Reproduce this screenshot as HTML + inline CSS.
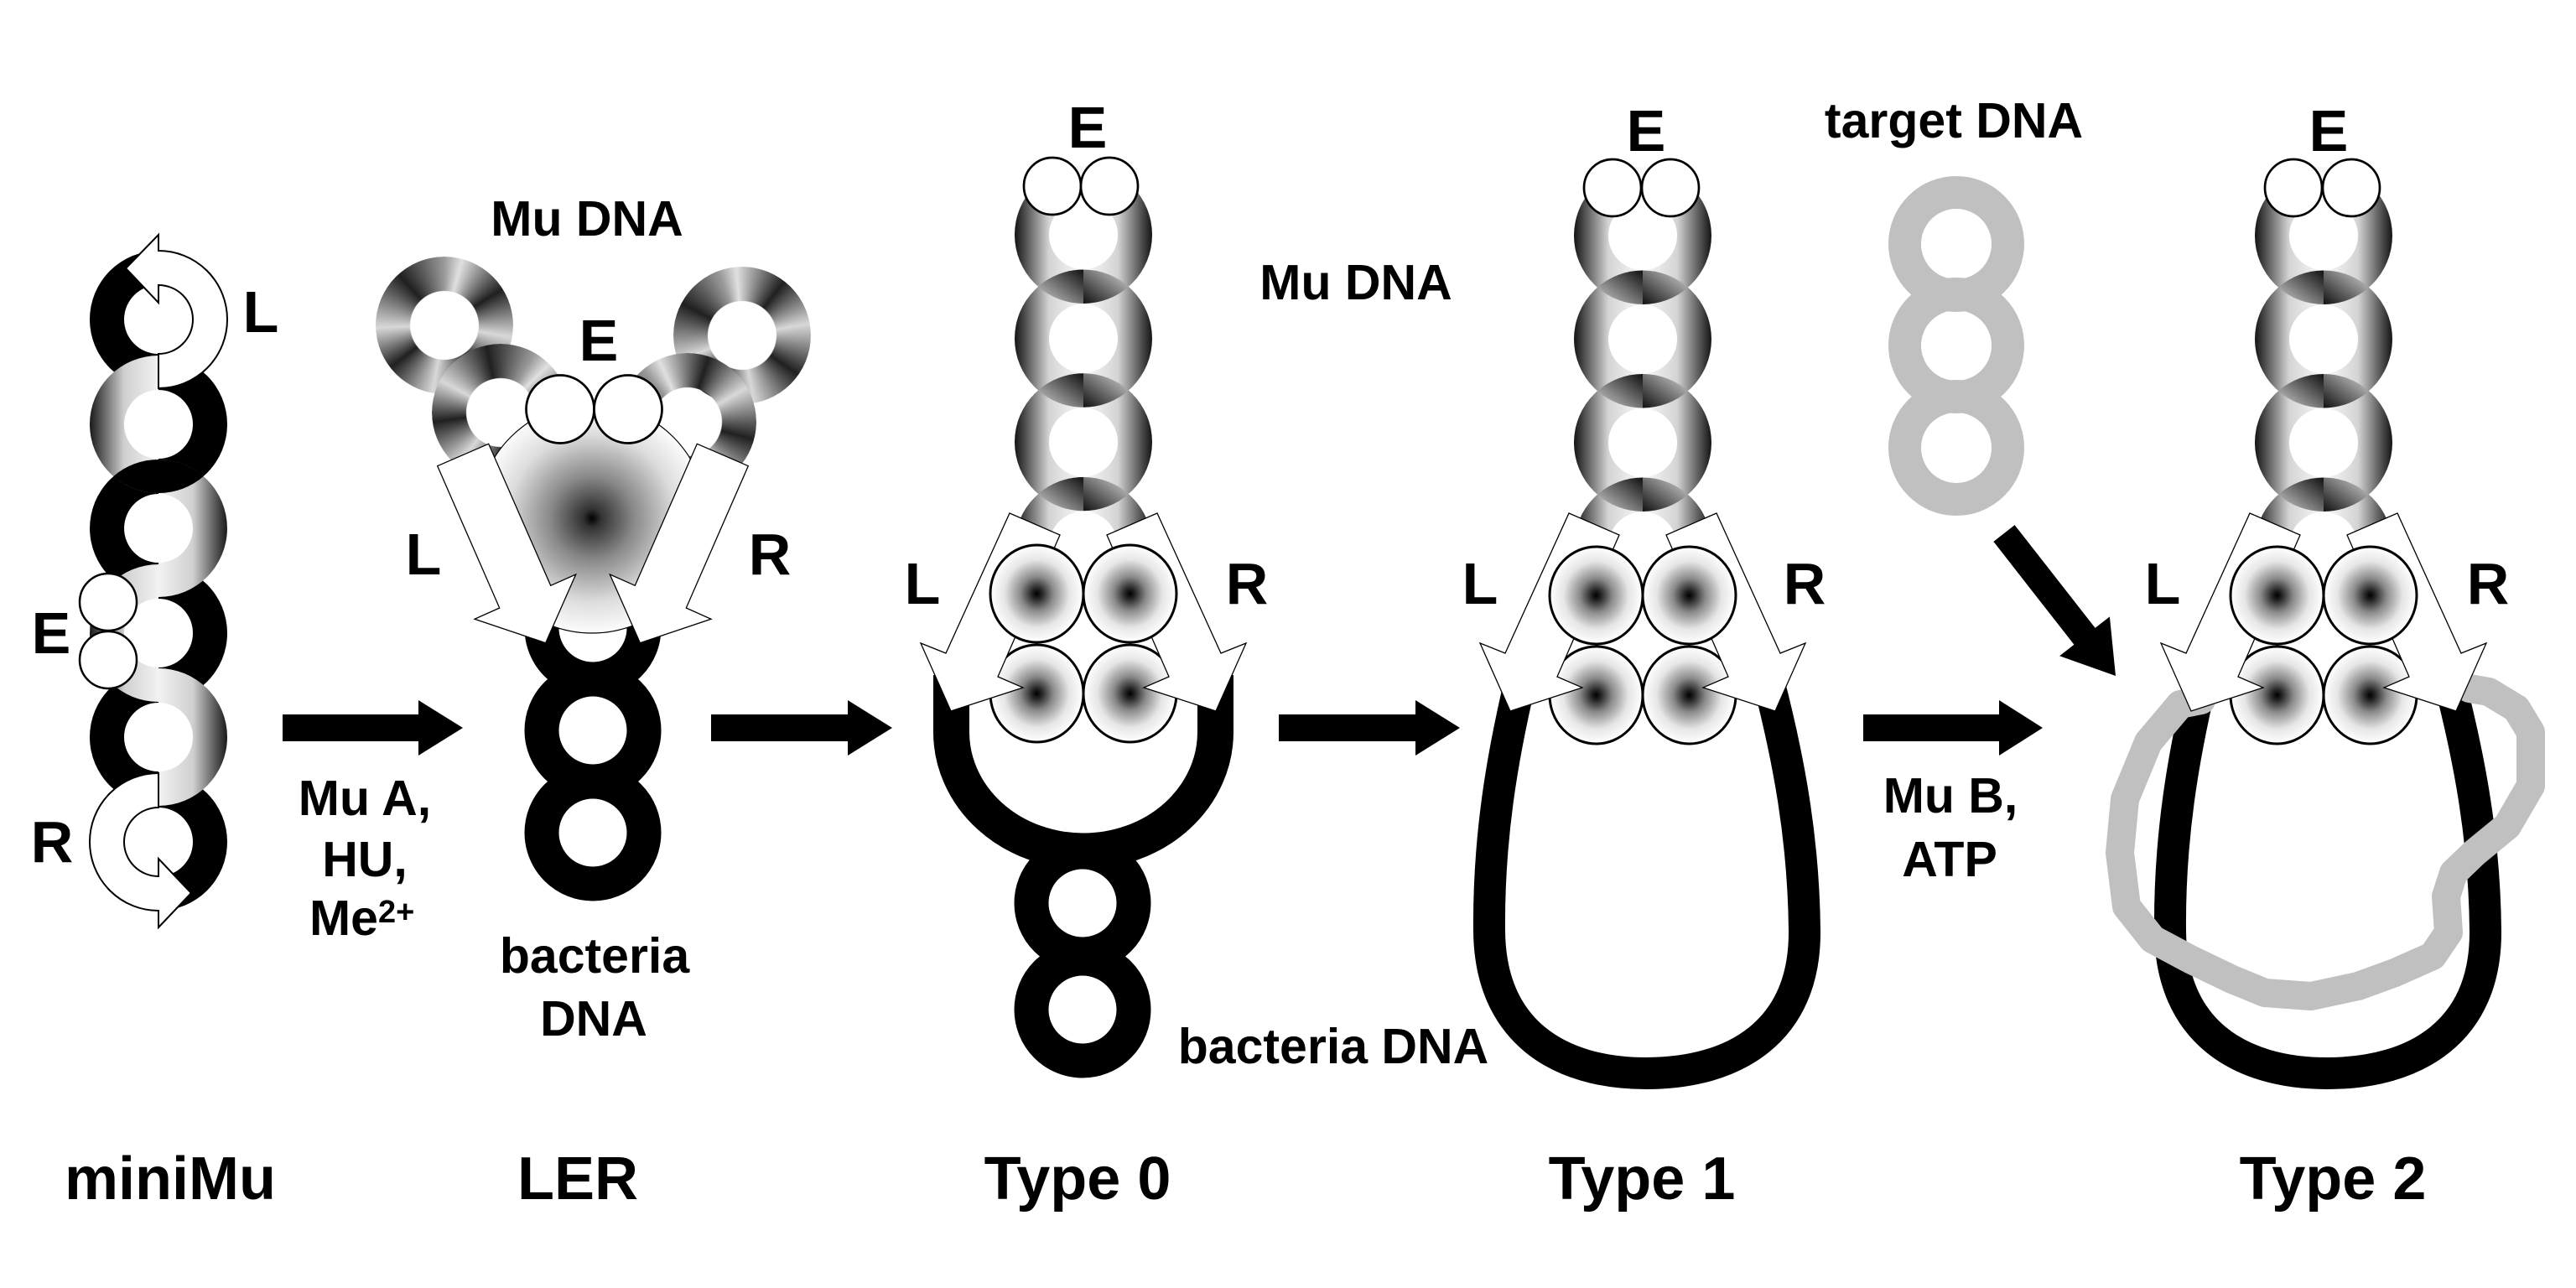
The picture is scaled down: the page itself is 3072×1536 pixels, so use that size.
<!DOCTYPE html>
<html>
<head>
<meta charset="utf-8">
<style>
html,body{margin:0;padding:0;background:#fff;}
#c{position:relative;width:3072px;height:1536px;overflow:hidden;background:#fff;}
.cr{position:absolute;width:164px;height:164px;border-radius:50%;
 -webkit-mask:radial-gradient(circle at center, transparent 40.5px, #000 41.5px);
 mask:radial-gradient(circle at center, transparent 40.5px, #000 41.5px);}
svg text{font-family:"Liberation Sans",Arial,sans-serif;font-weight:bold;fill:#000;}
.big{font-size:72px;}
.let{font-size:70px;}
.mid{font-size:59px;}
</style>
</head>
<body>
<div id="c">
<!-- LER conic-gradient rings -->
<div class="cr" style="left:448px;top:306px;background:conic-gradient(from 0deg,#9a9a9a 0deg,#e0e0e0 15deg,#202020 58deg,#d8d8d8 100deg,#202020 145deg,#d8d8d8 190deg,#202020 232deg,#d8d8d8 268deg,#202020 318deg,#9a9a9a 360deg);"></div>
<div class="cr" style="left:803px;top:318px;background:conic-gradient(from -20deg,#9a9a9a 0deg,#e0e0e0 15deg,#202020 58deg,#d8d8d8 100deg,#202020 145deg,#d8d8d8 190deg,#202020 232deg,#d8d8d8 268deg,#202020 318deg,#9a9a9a 360deg);"></div>
<div class="cr" style="left:515px;top:410px;background:conic-gradient(from 30deg,#9a9a9a 0deg,#e0e0e0 15deg,#202020 58deg,#d8d8d8 100deg,#202020 145deg,#d8d8d8 190deg,#202020 232deg,#d8d8d8 268deg,#202020 318deg,#9a9a9a 360deg);"></div>
<div class="cr" style="left:738px;top:421px;background:conic-gradient(from -40deg,#9a9a9a 0deg,#e0e0e0 15deg,#202020 58deg,#d8d8d8 100deg,#202020 145deg,#d8d8d8 190deg,#202020 232deg,#d8d8d8 268deg,#202020 318deg,#9a9a9a 360deg);"></div>

<svg width="3072" height="1536" viewBox="0 0 3072 1536" style="position:absolute;left:0;top:0" xmlns="http://www.w3.org/2000/svg">
<defs>
 <linearGradient id="gL" x1="0" y1="0" x2="1" y2="0">
  <stop offset="0" stop-color="#1a1a1a"/><stop offset="0.5" stop-color="#d0d0d0"/><stop offset="1" stop-color="#f2f2f2"/>
 </linearGradient>
 <linearGradient id="gR" x1="0" y1="0" x2="1" y2="0">
  <stop offset="0" stop-color="#f2f2f2"/><stop offset="0.5" stop-color="#d0d0d0"/><stop offset="1" stop-color="#1a1a1a"/>
 </linearGradient>
 <linearGradient id="gRing" x1="0" y1="0" x2="1" y2="0">
  <stop offset="0" stop-color="#141414"/><stop offset="0.25" stop-color="#d4d4d4"/><stop offset="0.5" stop-color="#fafafa"/><stop offset="0.75" stop-color="#d4d4d4"/><stop offset="1" stop-color="#141414"/>
 </linearGradient>
 <linearGradient id="lensL" x1="1" y1="0" x2="0" y2="1">
  <stop offset="0" stop-color="#111"/><stop offset="1" stop-color="#d0d0d0"/>
 </linearGradient>
 <linearGradient id="lensR" x1="1" y1="0" x2="0" y2="1">
  <stop offset="0" stop-color="#d8d8d8"/><stop offset="1" stop-color="#111"/>
 </linearGradient>
 <radialGradient id="prot" cx="0.5" cy="0.5" r="0.5">
  <stop offset="0" stop-color="#000"/><stop offset="0.1" stop-color="#222"/><stop offset="0.35" stop-color="#8a8a8a"/><stop offset="0.7" stop-color="#e6e6e6"/><stop offset="1" stop-color="#fff"/>
 </radialGradient>
 <radialGradient id="disk" cx="0.5" cy="0.5" r="0.5">
  <stop offset="0" stop-color="#000"/><stop offset="0.08" stop-color="#333"/><stop offset="0.36" stop-color="#888"/><stop offset="0.73" stop-color="#ddd"/><stop offset="1" stop-color="#fcfcfc"/>
 </radialGradient>
 <path id="ann" fill-rule="evenodd" d="M-82,0 A82,82 0 1,0 82,0 A82,82 0 1,0 -82,0 Z M-41,0 A41,41 0 1,0 41,0 A41,41 0 1,0 -41,0 Z"/>
</defs>

<!-- ================= miniMu ================= -->
<g>
 <!-- black halves -->
 <path fill="#000" d="M189,299 A82,82 0 0 0 189,463 L189,422 A41,41 0 0 1 189,340 Z"/>
 <path fill="#000" d="M189,424 A82,82 0 0 1 189,588 L189,547 A41,41 0 0 0 189,465 Z"/>
 <path fill="#000" d="M189,548 A82,82 0 0 0 189,712 L189,671 A41,41 0 0 1 189,589 Z"/>
 <path fill="#000" d="M189,673 A82,82 0 0 1 189,837 L189,796 A41,41 0 0 0 189,714 Z"/>
 <path fill="#000" d="M189,797 A82,82 0 0 0 189,961 L189,920 A41,41 0 0 1 189,838 Z"/>
 <path fill="#000" d="M189,922 A82,82 0 0 1 189,1086 L189,1045 A41,41 0 0 0 189,963 Z"/>
 <!-- gradient halves -->
 <path fill="url(#gL)" d="M189,424 A82,82 0 0 0 189,588 L189,547 A41,41 0 0 1 189,465 Z"/>
 <path fill="url(#gR)" d="M189,548 A82,82 0 0 1 189,712 L189,671 A41,41 0 0 0 189,589 Z"/>
 <path fill="url(#gL)" d="M189,673 A82,82 0 0 0 189,837 L189,796 A41,41 0 0 1 189,714 Z"/>
 <path fill="url(#gR)" d="M189,797 A82,82 0 0 1 189,961 L189,920 A41,41 0 0 0 189,838 Z"/>
 <!-- crossing 2-3 black on top -->
 <path fill="#000" d="M135.3,568 A82,82 0 0 0 189,588 L189,548 A82,82 0 0 0 135.3,568 Z"/>
 <path fill="#000" d="M189,588 A82,82 0 0 0 242.7,568 A82,82 0 0 0 189,548 Z"/>
 <!-- E circles -->
 <ellipse cx="129" cy="718" rx="34" ry="34" fill="#fff" stroke="#000" stroke-width="2.5"/>
 <ellipse cx="129" cy="787" rx="34" ry="34" fill="#fff" stroke="#000" stroke-width="2.5"/>
 <!-- L and R curved arrows -->
 <path fill="#fff" stroke="#000" stroke-width="2" stroke-linejoin="miter" d="M189,299 A82,82 0 0 1 189,463 L189,422 A41,41 0 0 0 189,340 L189,361 L150,320 L189,280 Z"/>
 <path fill="#fff" stroke="#000" stroke-width="2" stroke-linejoin="miter" d="M189,922 A82,82 0 0 0 189,1086 L189,1106 L228,1065 L189,1024 L189,1045 A41,41 0 0 1 189,963 Z"/>
 <text class="let" x="311" y="396" text-anchor="middle">L</text>
 <text class="let" x="61" y="779" text-anchor="middle">E</text>
 <text class="let" x="62" y="1028" text-anchor="middle">R</text>
</g>

<!-- black arrows -->
<polygon fill="#000" points="337,852 499,852 499,835 552,868 499,901 499,884 337,884"/>
<polygon fill="#000" points="848,852 1011,852 1011,835 1064,868 1011,901 1011,884 848,884"/>
<polygon fill="#000" points="1525,852 1688,852 1688,835 1741,868 1688,901 1688,884 1525,884"/>
<polygon fill="#000" points="2222,852 2384,852 2384,835 2436,868 2384,901 2384,884 2222,884"/>

<text class="mid" x="435" y="972" text-anchor="middle">Mu A,</text>
<text class="mid" x="435" y="1045" text-anchor="middle">HU,</text>
<text class="mid" x="369" y="1115">Me<tspan font-size="38" dy="-15">2+</tspan></text>

<!-- ================= LER ================= -->
<g>
 <circle cx="707" cy="749" r="61" fill="none" stroke="#000" stroke-width="41"/>
 <circle cx="707" cy="871" r="61" fill="none" stroke="#000" stroke-width="41"/>
 <circle cx="707" cy="993" r="61" fill="none" stroke="#000" stroke-width="41"/>
 <circle cx="706" cy="618" r="137" fill="url(#disk)" stroke="#000" stroke-width="1.2"/>
 <circle cx="668" cy="488" r="40.5" fill="#fff" stroke="#000" stroke-width="2.7"/>
 <circle cx="749" cy="488" r="40.5" fill="#fff" stroke="#000" stroke-width="2.7"/>
 <polygon fill="#fff" stroke="#000" stroke-width="1.3" points="521.7,555.7 582.7,529.3 656.7,698.3 686.7,685 650.7,766.7 566,738.3 595.7,725"/>
 <polygon fill="#fff" stroke="#000" stroke-width="1.3" points="892.3,555.7 831.3,529.3 757.3,698.3 727.3,685 763.3,766.7 848,738.3 818.3,725"/>
 <text class="mid" x="700" y="281" text-anchor="middle">Mu DNA</text>
 <text class="let" x="714" y="430" text-anchor="middle">E</text>
 <text class="let" x="505" y="685" text-anchor="middle">L</text>
 <text class="let" x="918" y="685" text-anchor="middle">R</text>
 <text class="mid" x="709" y="1160" text-anchor="middle">bacteria</text>
 <text class="mid" x="708" y="1235" text-anchor="middle">DNA</text>
</g>

<!-- ================= Type 0 ================= -->
<g>
 <use href="#ann" x="1292" y="280" fill="url(#gRing)"/>
 <use href="#ann" x="1292" y="403.7" fill="url(#gRing)"/>
 <use href="#ann" x="1292" y="527.3" fill="url(#gRing)"/>
 <use href="#ann" x="1292" y="651" fill="url(#gRing)"/>
 <path fill="url(#lensL)" d="M1238,341.75 A82,82 0 0 0 1292,362 L1292,321.5 A82,82 0 0 0 1238,341.75 Z"/>
 <path fill="url(#lensR)" d="M1292,362 A82,82 0 0 0 1346,341.75 A82,82 0 0 0 1292,321.5 Z"/>
 <path fill="url(#lensL)" d="M1238,465.5 A82,82 0 0 0 1292,485.7 L1292,445.3 A82,82 0 0 0 1238,465.5 Z"/>
 <path fill="url(#lensR)" d="M1292,485.7 A82,82 0 0 0 1346,465.5 A82,82 0 0 0 1292,445.3 Z"/>
 <path fill="url(#lensL)" d="M1238,589 A82,82 0 0 0 1292,609.3 L1292,569 A82,82 0 0 0 1238,589 Z"/>
 <path fill="url(#lensR)" d="M1292,609.3 A82,82 0 0 0 1346,589 A82,82 0 0 0 1292,569 Z"/>
 <circle cx="1255" cy="222" r="34" fill="#fff" stroke="#000" stroke-width="2.7"/>
 <circle cx="1323" cy="222" r="34" fill="#fff" stroke="#000" stroke-width="2.7"/>
 <path fill="none" stroke="#000" stroke-width="43" d="M1134.5,805 L1134.5,873 A157.5,142 0 0 0 1449.5,873 L1449.5,805"/>
 <circle cx="1291" cy="1077" r="61" fill="none" stroke="#000" stroke-width="41"/>
 <circle cx="1291" cy="1204" r="61" fill="none" stroke="#000" stroke-width="41"/>
 <ellipse cx="1236.5" cy="827" rx="55.5" ry="58" fill="url(#prot)" stroke="#000" stroke-width="3"/>
 <ellipse cx="1347.5" cy="827" rx="55.5" ry="58" fill="url(#prot)" stroke="#000" stroke-width="3"/>
 <polygon fill="#fff" stroke="#000" stroke-width="1.3" points="1204,612 1264,638 1190,807 1220,820 1134,848 1098,767 1128,779"/>
 <polygon fill="#fff" stroke="#000" stroke-width="1.3" points="1380,612 1320,638 1394,807 1364,820 1450,848 1486,767 1456,779"/>
 <ellipse cx="1236.5" cy="708" rx="55.5" ry="58" fill="url(#prot)" stroke="#000" stroke-width="3"/>
 <ellipse cx="1347.5" cy="708" rx="55.5" ry="58" fill="url(#prot)" stroke="#000" stroke-width="3"/>
 <text class="let" x="1297" y="176" text-anchor="middle">E</text>
 <text class="mid" x="1617" y="357" text-anchor="middle">Mu DNA</text>
 <text class="let" x="1100" y="720" text-anchor="middle">L</text>
 <text class="let" x="1487" y="720" text-anchor="middle">R</text>
 <text class="mid" x="1590" y="1268" text-anchor="middle">bacteria DNA</text>
</g>

<!-- ================= Type 1 ================= -->
<g>
 <use href="#ann" x="1959" y="281" fill="url(#gRing)"/>
 <use href="#ann" x="1959" y="404.5" fill="url(#gRing)"/>
 <use href="#ann" x="1959" y="528" fill="url(#gRing)"/>
 <use href="#ann" x="1959" y="651.5" fill="url(#gRing)"/>
 <path fill="url(#lensL)" d="M1905,342.75 A82,82 0 0 0 1959,363 L1959,322.5 A82,82 0 0 0 1905,342.75 Z"/>
 <path fill="url(#lensR)" d="M1959,363 A82,82 0 0 0 2013,342.75 A82,82 0 0 0 1959,322.5 Z"/>
 <path fill="url(#lensL)" d="M1905,466.25 A82,82 0 0 0 1959,486.5 L1959,446 A82,82 0 0 0 1905,466.25 Z"/>
 <path fill="url(#lensR)" d="M1959,486.5 A82,82 0 0 0 2013,466.25 A82,82 0 0 0 1959,446 Z"/>
 <path fill="url(#lensL)" d="M1905,589.75 A82,82 0 0 0 1959,610 L1959,569.5 A82,82 0 0 0 1905,589.75 Z"/>
 <path fill="url(#lensR)" d="M1959,610 A82,82 0 0 0 2013,589.75 A82,82 0 0 0 1959,569.5 Z"/>
 <circle cx="1923" cy="224" r="34" fill="#fff" stroke="#000" stroke-width="2.7"/>
 <circle cx="1992" cy="224" r="34" fill="#fff" stroke="#000" stroke-width="2.7"/>
 <path fill="none" stroke="#000" stroke-width="38" d="M1813,812 C1791,905 1775,1000 1776,1110 C1777,1230 1859,1280 1963,1280 C2069,1280 2153,1230 2152,1110 C2151,1000 2133,905 2109,812"/>
 <ellipse cx="1903.5" cy="829" rx="55.5" ry="58" fill="url(#prot)" stroke="#000" stroke-width="3"/>
 <ellipse cx="2014.5" cy="829" rx="55.5" ry="58" fill="url(#prot)" stroke="#000" stroke-width="3"/>
 <polygon fill="#fff" stroke="#000" stroke-width="1.3" points="1871,612 1931,638 1857,807 1887,820 1801,848 1765,767 1795,779"/>
 <polygon fill="#fff" stroke="#000" stroke-width="1.3" points="2047,612 1987,638 2061,807 2031,820 2117,848 2153,767 2123,779"/>
 <ellipse cx="1903.5" cy="710" rx="55.5" ry="58" fill="url(#prot)" stroke="#000" stroke-width="3"/>
 <ellipse cx="2014.5" cy="710" rx="55.5" ry="58" fill="url(#prot)" stroke="#000" stroke-width="3"/>
 <text class="let" x="1963" y="180" text-anchor="middle">E</text>
 <text class="let" x="1765" y="720" text-anchor="middle">L</text>
 <text class="let" x="2152" y="720" text-anchor="middle">R</text>
</g>

<!-- target DNA -->
<g>
 <text class="mid" x="2330" y="164" text-anchor="middle">target DNA</text>
 <circle cx="2333" cy="291" r="61.5" fill="none" stroke="#c0c0c0" stroke-width="39"/>
 <circle cx="2333" cy="412" r="61.5" fill="none" stroke="#c0c0c0" stroke-width="39"/>
 <circle cx="2333" cy="534" r="61.5" fill="none" stroke="#c0c0c0" stroke-width="39"/>
 <polygon fill="#000" points="2377.4,645.9 2473.4,768.7 2456.1,782.2 2523,806 2515.9,735.4 2498.6,748.9 2402.6,626.1"/>
 <text class="mid" x="2326" y="969" text-anchor="middle">Mu B,</text>
 <text class="mid" x="2325" y="1045" text-anchor="middle">ATP</text>
</g>

<!-- ================= Type 2 ================= -->
<g>
 <use href="#ann" x="2771" y="281" fill="url(#gRing)"/>
 <use href="#ann" x="2771" y="404.5" fill="url(#gRing)"/>
 <use href="#ann" x="2771" y="528" fill="url(#gRing)"/>
 <use href="#ann" x="2771" y="651.5" fill="url(#gRing)"/>
 <path fill="url(#lensL)" d="M2717,342.75 A82,82 0 0 0 2771,363 L2771,322.5 A82,82 0 0 0 2717,342.75 Z"/>
 <path fill="url(#lensR)" d="M2771,363 A82,82 0 0 0 2825,342.75 A82,82 0 0 0 2771,322.5 Z"/>
 <path fill="url(#lensL)" d="M2717,466.25 A82,82 0 0 0 2771,486.5 L2771,446 A82,82 0 0 0 2717,466.25 Z"/>
 <path fill="url(#lensR)" d="M2771,486.5 A82,82 0 0 0 2825,466.25 A82,82 0 0 0 2771,446 Z"/>
 <path fill="url(#lensL)" d="M2717,589.75 A82,82 0 0 0 2771,610 L2771,569.5 A82,82 0 0 0 2717,589.75 Z"/>
 <path fill="url(#lensR)" d="M2771,610 A82,82 0 0 0 2825,589.75 A82,82 0 0 0 2771,569.5 Z"/>
 <circle cx="2735" cy="224" r="34" fill="#fff" stroke="#000" stroke-width="2.7"/>
 <circle cx="2804" cy="224" r="34" fill="#fff" stroke="#000" stroke-width="2.7"/>
 <path fill="none" stroke="#000" stroke-width="38" d="M2625,812 C2603,905 2587,1000 2588,1110 C2589,1230 2671,1280 2775,1280 C2881,1280 2965,1230 2964,1110 C2963,1000 2945,905 2921,812"/>
 <polyline fill="none" stroke="#c0c0c0" stroke-width="34" stroke-linejoin="round" stroke-linecap="round" points="2625,835 2600,840 2562,885 2534,953 2528,1017 2536,1081 2567,1120 2612,1144 2662,1168 2701,1184 2756,1188 2812,1176 2856,1160 2901,1140 2920,1112 2917,1069 2926,1041 2951,1017 2990,985 3018,937 3018,873 3001,845 2968,825 2945,821"/>
 <ellipse cx="2715.5" cy="829" rx="55.5" ry="58" fill="url(#prot)" stroke="#000" stroke-width="3"/>
 <ellipse cx="2826.5" cy="829" rx="55.5" ry="58" fill="url(#prot)" stroke="#000" stroke-width="3"/>
 <polygon fill="#fff" stroke="#000" stroke-width="1.3" points="2683,612 2743,638 2669,807 2699,820 2613,848 2577,767 2607,779"/>
 <polygon fill="#fff" stroke="#000" stroke-width="1.3" points="2859,612 2799,638 2873,807 2843,820 2929,848 2965,767 2935,779"/>
 <ellipse cx="2715.5" cy="710" rx="55.5" ry="58" fill="url(#prot)" stroke="#000" stroke-width="3"/>
 <ellipse cx="2826.5" cy="710" rx="55.5" ry="58" fill="url(#prot)" stroke="#000" stroke-width="3"/>
 <text class="let" x="2777" y="180" text-anchor="middle">E</text>
 <text class="let" x="2579" y="720" text-anchor="middle">L</text>
 <text class="let" x="2967" y="720" text-anchor="middle">R</text>
</g>

<!-- bottom labels -->
<text class="big" x="203" y="1430" text-anchor="middle">miniMu</text>
<text class="big" x="689" y="1430" text-anchor="middle">LER</text>
<text class="big" x="1285" y="1430" text-anchor="middle">Type 0</text>
<text class="big" x="1958" y="1430" text-anchor="middle">Type 1</text>
<text class="big" x="2782" y="1430" text-anchor="middle">Type 2</text>
</svg>
</div>
</body>
</html>
